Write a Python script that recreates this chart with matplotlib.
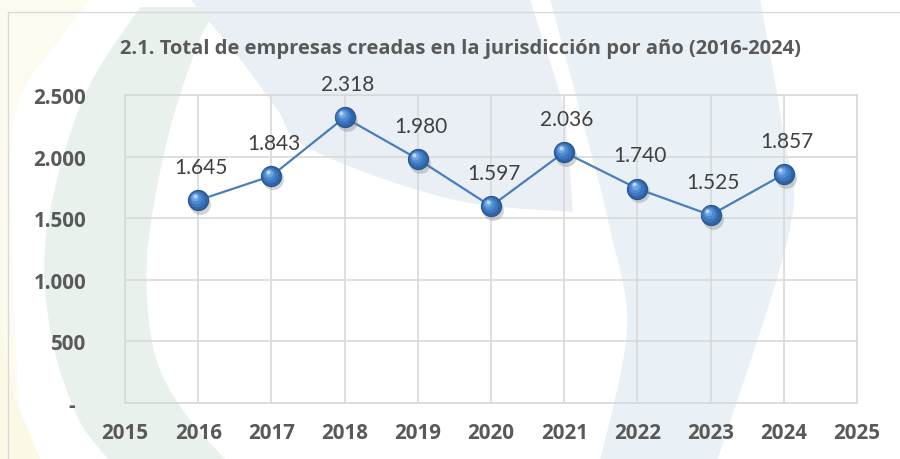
import numpy as np
import matplotlib
matplotlib.use("Agg")
import matplotlib.pyplot as plt
from matplotlib.patches import Polygon, Rectangle
from matplotlib.transforms import offset_copy

# ---------------- data ----------------
years = [2016, 2017, 2018, 2019, 2020, 2021, 2022, 2023, 2024]
empresas = [1645, 1843, 2318, 1980, 1597, 2036, 1740, 1525, 1857]
xticks = list(range(2015, 2026))
yticks = [0, 500, 1000, 1500, 2000, 2500]
ytick_labels = ["-  ", "500", "1.000", "1.500", "2.000", "2.500"]
title = "2.1. Total de empresas creadas en la jurisdicción por año (2016-2024)"


def fmt(v):
    return f"{v:,}".replace(",", ".")


W, H = 900, 460
fig = plt.figure(figsize=(9, 4.6), dpi=100)
fig.patch.set_facecolor("white")


# ---------------- watermark background (decoration) ----------------
def smooth(pts, n=12):
    pts = np.asarray(pts, float)
    out = []
    P = np.vstack([pts[0], pts, pts[-1]])
    for i in range(1, len(P) - 2):
        p0, p1, p2, p3 = P[i - 1], P[i], P[i + 1], P[i + 2]
        for t in np.linspace(0, 1, n, endpoint=False):
            t2, t3 = t * t, t * t * t
            out.append(0.5 * ((2 * p1) + (-p0 + p2) * t + (2 * p0 - 5 * p1 + 4 * p2 - p3) * t2
                              + (-p0 + 3 * p1 - 3 * p2 + p3) * t3))
    out.append(pts[-1])
    return np.array(out)


def shape(edge_a, edge_b, color):
    a = smooth(edge_a)
    b = smooth(edge_b)
    pts = np.vstack([a, b])
    pts[:, 0] /= W
    pts[:, 1] = (H - pts[:, 1]) / H
    fig.add_artist(Polygon(pts, closed=True, transform=fig.transFigure,
                           facecolor=color, edgecolor="none", zorder=-10))


# yellow strip / corner
shape([(0, 0), (0, 460)], [(22, 460), (14, 300), (14, 120), (60, 40), (90, 0)], "#fdfbef")
shape([(0, 330), (0, 460)], [(40, 460), (15, 400)], "#fcf8e6")
# green crescent
shape([(140, 8), (83, 100), (47, 230), (50, 330), (77, 417), (110, 462)],
      [(227, 462), (187, 417), (157, 363), (147, 297), (150, 230), (170, 130), (200, 40), (220, 8)],
      "#e9f1ec")
# big blue arc
shape([(190, 0), (240, 60), (277, 110), (310, 150), (450, 200), (573, 213)],
      [(565, 110), (530, 0)], "#eaeff6")
# right blue band
shape([(550, 0), (590, 150), (610, 230), (627, 330), (600, 462)],
      [(717, 462), (790, 230), (783, 133), (760, 0)], "#eaf1f6")

# chart frame
fig.add_artist(Rectangle((8 / W, -0.1), 1.2, (H - 13) / H + 0.1, transform=fig.transFigure,
                         facecolor="none", edgecolor="#d9d9d9", linewidth=1.0, zorder=-5))

BOLD_FONT = "Open Sans"

# ---------------- axes ----------------
ax = fig.add_axes([125 / W, 1 - 404 / H, (857 - 125) / W, (404 - 96) / H])
ax.set_facecolor("none")
ax.set_xlim(2015, 2025)
ax.set_ylim(0, 2500)
ax.set_xticks(xticks)
ax.set_xticklabels([str(x) for x in xticks])
ax.set_yticks(yticks)
ax.set_yticklabels(ytick_labels)
ax.grid(True, color="#d9d9d9", linewidth=1.2)
ax.set_axisbelow(True)
for s in ax.spines.values():
    s.set_color("#d9d9d9")
    s.set_linewidth(1.2)
ax.tick_params(length=0)
ax.tick_params(axis="y", pad=28)
ax.tick_params(axis="x", pad=14)
for lab in ax.get_xticklabels() + ax.get_yticklabels():
    lab.set_fontfamily(BOLD_FONT)
    lab.set_fontweight("bold")
    lab.set_fontsize(14.8)
    lab.set_color("#595959")

# line
ax.plot(years, empresas, color="#4a7ebb", linewidth=1.6, zorder=3)

# spheres
shadow_tr = offset_copy(ax.transData, fig=fig, x=1.5, y=-2.5, units="points")
ax.plot(years, empresas, linestyle="none", marker="o", markersize=15,
        color="#7f7f7f", alpha=0.35, markeredgewidth=0, transform=shadow_tr, zorder=4)
ax.plot(years, empresas, linestyle="none", marker="o", markersize=14.5,
        markerfacecolor="#2f64a6", markeredgecolor="#26558f", markeredgewidth=0.8, zorder=5)
layers = [(11.5, "#3c76bd", -0.8, 0.8), (8.5, "#4f8ad0", -1.4, 1.4),
          (5.5, "#6fa5e2", -2.0, 2.2), (2.8, "#bcd8f7", -2.4, 3.0)]
for ms, col, dx, dy in layers:
    tr = offset_copy(ax.transData, fig=fig, x=dx, y=dy, units="points")
    ax.plot(years, empresas, linestyle="none", marker="o", markersize=ms,
            markerfacecolor=col, markeredgewidth=0, transform=tr, zorder=6)

# data labels
for x, v in zip(years, empresas):
    ax.annotate(fmt(v), (x, v), xytext=(2, 24), textcoords="offset points",
                ha="center", va="center", fontsize=15, fontfamily="Lato",
                color="#404040", zorder=7)

# title
fig.text(460 / W, 1 - 49 / H, title, ha="center", va="center", fontsize=14.5,
         fontweight="bold", fontfamily=BOLD_FONT, color="#595959")

fig.savefig("out.png", dpi=100)
